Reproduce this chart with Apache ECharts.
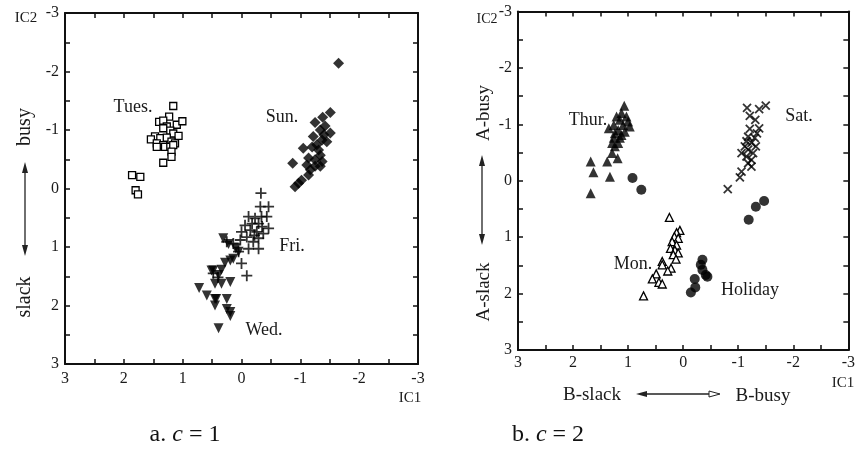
<!DOCTYPE html>
<html><head><meta charset="utf-8">
<script src="https://cdn.jsdelivr.net/npm/echarts@6/dist/echarts.min.js"></script>
<style>html,body{margin:0;padding:0;background:#fff}#c{width:858px;height:457px}</style>
</head><body><div id="c"></div>
<script>
// ---- data (IC1, IC2) ----
const tues = [[1.16,-1.41],[1.40,-1.14],[1.23,-1.23],[1.33,-1.16],[1.10,-1.09],[1.005,-1.15],[1.27,-1.06],[1.33,-1.03],[1.21,-0.99],[1.16,-0.94],[1.07,-0.90],[1.47,-0.89],[1.54,-0.84],[1.38,-0.86],[1.27,-0.87],[1.44,-0.77],[1.33,-0.74],[1.19,-0.80],[1.13,-0.77],[1.44,-0.71],[1.30,-0.71],[1.21,-0.71],[1.16,-0.74],[1.19,-0.63],[1.19,-0.54],[1.33,-0.44],[1.86,-0.23],[1.72,-0.20],[1.80,0.03],[1.76,0.10]];
const sun = [[-1.65,-2.14],[-1.51,-1.30],[-1.38,-1.22],[-1.25,-1.13],[-1.42,-1.07],[-1.51,-0.95],[-1.34,-1.0],[-1.22,-0.89],[-1.37,-0.83],[-1.45,-0.80],[-1.05,-0.69],[-1.20,-0.71],[-1.31,-0.66],[-1.34,-0.57],[-1.14,-0.52],[-1.25,-0.49],[-1.37,-0.46],[-0.87,-0.43],[-1.11,-0.40],[-1.25,-0.38],[-1.34,-0.38],[-1.17,-0.32],[-1.14,-0.23],[-1.02,-0.14],[-0.97,-0.09],[-0.91,-0.03],[-1.28,-0.75],[-1.40,-0.92]];
const fri = [[-0.33,0.08],[-0.32,0.31],[-0.46,0.31],[-0.12,0.48],[-0.23,0.51],[-0.34,0.48],[-0.43,0.48],[-0.06,0.63],[-0.18,0.60],[-0.29,0.60],[-0.46,0.68],[0.0,0.74],[-0.15,0.71],[-0.26,0.74],[-0.37,0.77],[-0.09,0.83],[-0.29,0.85],[0.02,0.88],[-0.20,0.91],[0.14,0.94],[0.25,0.91],[-0.12,1.03],[-0.29,1.03],[0.05,1.08],[0.0,1.28],[-0.09,1.49],[0.48,1.45],[0.40,1.52],[-0.22,0.80],[-0.35,0.65]];
const wed = [[0.31,0.85],[0.22,0.95],[0.10,1.02],[0.19,1.23],[0.28,1.27],[0.14,1.20],[0.05,1.08],[0.51,1.40],[0.34,1.39],[0.39,1.48],[0.48,1.40],[0.45,1.63],[0.34,1.63],[0.19,1.60],[0.72,1.70],[0.59,1.83],[0.45,1.89],[0.25,1.89],[0.43,1.89],[0.45,2.00],[0.25,2.06],[0.19,2.11],[0.19,2.18],[0.39,2.39]];

const thur = [[1.07,-1.33],[1.12,-1.20],[1.21,-1.14],[1.03,-1.14],[1.15,-1.08],[1.0,-1.05],[1.26,-0.99],[1.09,-0.99],[0.97,-0.96],[1.35,-0.93],[1.18,-0.90],[1.06,-0.87],[1.24,-0.84],[1.12,-0.81],[1.26,-0.76],[1.15,-0.76],[1.29,-0.67],[1.18,-0.67],[1.24,-0.61],[1.29,-0.49],[1.38,-0.34],[1.19,-0.40],[1.68,-0.34],[1.63,-0.15],[1.33,-0.07],[1.68,0.22]];
const holiday = [[0.92,-0.05],[0.76,0.16],[-1.47,0.36],[-1.32,0.46],[-1.19,0.69],[-0.35,1.40],[-0.32,1.49],[-0.35,1.58],[-0.41,1.67],[-0.44,1.70],[-0.21,1.74],[-0.22,1.89],[-0.14,1.98]];
const mon = [[0.25,0.65],[0.06,0.88],[0.12,0.92],[0.16,0.99],[0.09,1.02],[0.20,1.08],[0.12,1.14],[0.23,1.20],[0.15,1.23],[0.09,1.28],[0.18,1.31],[0.13,1.39],[0.38,1.43],[0.38,1.49],[0.22,1.55],[0.28,1.60],[0.49,1.65],[0.56,1.74],[0.44,1.80],[0.38,1.83],[0.72,2.04]];
const sat = [[-1.50,-1.33],[-1.38,-1.27],[-1.16,-1.29],[-1.21,-1.15],[-1.31,-1.08],[-1.38,-0.93],[-1.21,-0.92],[-1.34,-0.84],[-1.18,-0.78],[-1.30,-0.76],[-1.15,-0.70],[-1.24,-0.67],[-1.32,-0.61],[-1.12,-0.61],[-1.18,-0.55],[-1.06,-0.49],[-1.27,-0.49],[-1.15,-0.43],[-1.24,-0.37],[-1.18,-0.31],[-1.24,-0.25],[-1.06,-0.16],[-1.03,-0.06],[-0.81,0.15]];

const axisMin = -3, axisMax = 3, tickStep = 0.5;

// ---- chart ----
const FONT = '"Liberation Serif", "DejaVu Serif", serif';
const isInt = v => Math.abs(v - Math.round(v)) < 1e-6;
function mkAxis(gridIndex, position, showLabel, margin) {
  return {
    type: 'value', gridIndex, position, min: axisMin, max: axisMax, interval: tickStep, inverse: true,
    axisLine: { show: true, onZero: false, lineStyle: { color: '#111', width: 2 } },
    axisTick: { show: true, inside: true, length: 5, lineStyle: { color: '#111', width: 1.5 } },
    axisLabel: { show: showLabel, margin, color: '#1a1a1a', fontFamily: FONT, fontSize: 16,
      formatter: v => isInt(v) ? String(Math.round(v)) : '' },
    splitLine: { show: false }
  };
}
const plus = 'path://M0,-1L0,1M-1,0L1,0';
const cross = 'path://M-1,-1L1,1M1,-1L-1,1';
function sc(data, xi, symbol, size, style, rot) {
  return { type: 'scatter', xAxisIndex: xi, yAxisIndex: xi, data, symbol, symbolSize: size,
    symbolRotate: rot || 0, itemStyle: style, emphasis: { disabled: true }, silent: true };
}
const solid = { color: '#000' };
const open = { color: '#fff', borderColor: '#000', borderWidth: 1.3, opacity: 1 };
const stroke = { color: 'rgba(0,0,0,0)', borderColor: '#000', borderWidth: 1.8 };

function txt(t, x, y, size, rot) {
  return { type: 'text', x, y, rotation: rot || 0, silent: true,
    style: { text: t, x: 0, y: 0, align: 'center', verticalAlign: 'middle', font: size + 'px ' + FONT, fill: '#1a1a1a' } };
}
function vArrow(x, y1, y2) {
  return [
    { type: 'line', shape: { x1: x, y1: y1 + 4, x2: x, y2: y2 - 4 }, style: { stroke: '#222', lineWidth: 1.3 } },
    { type: 'polygon', shape: { points: [[x, y1], [x - 3, y1 + 11], [x + 3, y1 + 11]] }, style: { fill: '#222' } },
    { type: 'polygon', shape: { points: [[x, y2], [x - 3, y2 - 11], [x + 3, y2 - 11]] }, style: { fill: '#222' } }
  ];
}
function hArrow(y, x1, x2) {
  return [
    { type: 'line', shape: { x1: x1 + 4, y1: y, x2: x2 - 4, y2: y }, style: { stroke: '#222', lineWidth: 1.3 } },
    { type: 'polygon', shape: { points: [[x1, y], [x1 + 11, y - 3], [x1 + 11, y + 3]] }, style: { fill: '#222' } },
    { type: 'polygon', shape: { points: [[x2, y], [x2 - 11, y - 3], [x2 - 11, y + 3]] }, style: { fill: '#fff', stroke: '#222', lineWidth: 1 } }
  ];
}
function caption(label, num, x) {
  return { type: 'text', x, y: 435, silent: true, style: { text: '{a|' + label + '. }{c|c}{a| = ' + num + '}', align: 'center', verticalAlign: 'middle',
    rich: { a: { fontFamily: FONT, fontSize: 24, fill: '#111' }, c: { fontFamily: FONT, fontSize: 24, fontStyle: 'italic', fill: '#111' } } } };
}

const chart = echarts.init(document.getElementById('c'), null, { renderer: 'canvas' });
chart.setOption({
  animation: false,
  backgroundColor: '#fff',
  grid: [
    { left: 65, top: 13, width: 353, height: 351 },
    { left: 518, top: 11.5, width: 338.5, height: 338.5 }
  ],
  xAxis: [
    mkAxis(0, 'bottom', true, 7),
    mkAxis(1, 'bottom', true, 5),
    mkAxis(0, 'top', false, 0),
    mkAxis(1, 'top', false, 0)
  ],
  yAxis: [
    mkAxis(0, 'left', true, 6),
    mkAxis(1, 'left', true, 6),
    mkAxis(0, 'right', false, 0),
    mkAxis(1, 'right', false, 0)
  ],
  series: [
    sc(tues, 0, 'rect', 7, open),
    sc(sun, 0, 'diamond', 11, solid),
    sc(fri, 0, plus, 11, stroke),
    sc(wed, 0, 'triangle', 10, solid, 180),
    sc(thur, 1, 'triangle', 10, solid),
    sc(holiday, 1, 'circle', 10, solid),
    sc(mon, 1, 'triangle', 8, open),
    sc(sat, 1, cross, 8, stroke)
  ],
  graphic: [
    txt('Tues.', 133, 107, 18), txt('Sun.', 282, 117, 18), txt('Fri.', 292, 246, 18), txt('Wed.', 264, 330, 18),
    txt('IC2', 26, 18, 15), txt('IC1', 410, 398, 15),
    txt('busy', 25, 127, 20, Math.PI / 2), txt('slack', 25, 297, 20, Math.PI / 2),
    ...vArrow(25, 162, 256),
    txt('Thur.', 588, 120, 18), txt('Sat.', 799, 116, 18), txt('Mon.', 633, 264, 18), txt('Holiday', 750, 290, 18),
    txt('IC2', 487, 19, 14), txt('IC1', 843, 383, 15),
    txt('A-busy', 484, 113, 19, Math.PI / 2), txt('A-slack', 484, 292, 19, Math.PI / 2),
    ...vArrow(482, 155, 245),
    txt('B-slack', 592, 395, 19), txt('B-busy', 763, 396, 19),
    ...hArrow(394, 636, 720),
    caption('a', 1, 185),
    caption('b', 2, 548)
  ]
});
</script></body></html>
